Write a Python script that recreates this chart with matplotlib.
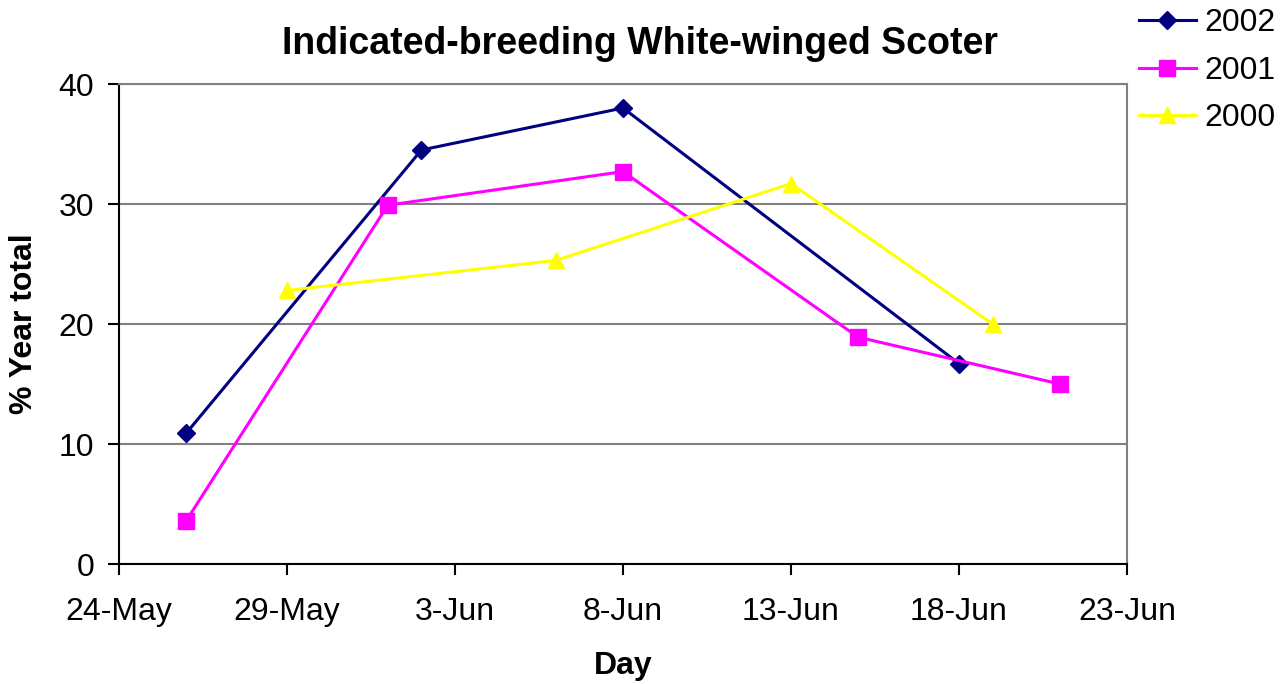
import matplotlib
matplotlib.use("Agg")
import matplotlib.pyplot as plt
import matplotlib.dates as mdates
import datetime as dt

plt.rcParams['font.family'] = ['Liberation Sans', 'DejaVu Sans']

# survey dates (month, day) and % of year total
dates_2002 = [(5, 26), (6, 2), (6, 8), (6, 18)]
vals_2002 = [10.9, 34.5, 38.0, 16.7]
dates_2001 = [(5, 26), (6, 1), (6, 8), (6, 15), (6, 21)]
vals_2001 = [3.6, 29.9, 32.7, 18.9, 15.0]
dates_2000 = [(5, 29), (6, 6), (6, 13), (6, 19)]
vals_2000 = [22.8, 25.3, 31.7, 20.0]


def to_dt(md):
    return [dt.date(2002, m, d) for m, d in md]


fig = plt.figure(figsize=(12.86, 6.84), dpi=100)
ax = fig.add_axes([119/1286, 1-564/684, (1127-119)/1286, (564-84)/684])

l1, = ax.plot(to_dt(dates_2002), vals_2002, color='#000080', marker='D', markersize=9, lw=2.2, label='2002')
l2, = ax.plot(to_dt(dates_2001), vals_2001, color='#FF00FF', marker='s', markersize=11, lw=2.2, label='2001')
l3, = ax.plot(to_dt(dates_2000), vals_2000, color='#FFFF00', marker='^', markersize=12, lw=2.2, label='2000')

ax.set_xlim(dt.date(2002, 5, 24), dt.date(2002, 6, 23))
ax.set_ylim(0, 40)
ax.set_yticks([0, 10, 20, 30, 40])
ticks = [dt.date(2002, 5, 24) + dt.timedelta(days=5*i) for i in range(7)]
ax.set_xticks(ticks)
ax.xaxis.set_major_formatter(mdates.DateFormatter('%-d-%b'))
ax.tick_params(labelsize=23, direction='out', length=8, width=1.5)
ax.tick_params(axis='x', pad=16)
ax.tick_params(axis='y', pad=10)

ax.grid(True, axis='y', color='#808080', lw=1.5)
ax.set_axisbelow(True)
for s in ['top', 'right']:
    ax.spines[s].set_color('#808080')
    ax.spines[s].set_linewidth(1.5)
for s in ['left', 'bottom']:
    ax.spines[s].set_color('black')
    ax.spines[s].set_linewidth(1.5)

ax.set_xlabel('Day', fontsize=23, fontweight='bold', labelpad=17)
ax.set_ylabel('% Year total', fontsize=23, fontweight='bold', labelpad=14)
fig.text(0.498, 0.936, 'Indicated-breeding White-winged Scoter', fontsize=27,
         fontweight='bold', ha='center', va='center')

fig.legend(handles=[l1, l2, l3], loc='upper right', bbox_to_anchor=(1.014, 1.03),
           frameon=False, fontsize=23, handlelength=1.8, handletextpad=0.25,
           labelspacing=0.55)

fig.savefig('out.png', dpi=100)
